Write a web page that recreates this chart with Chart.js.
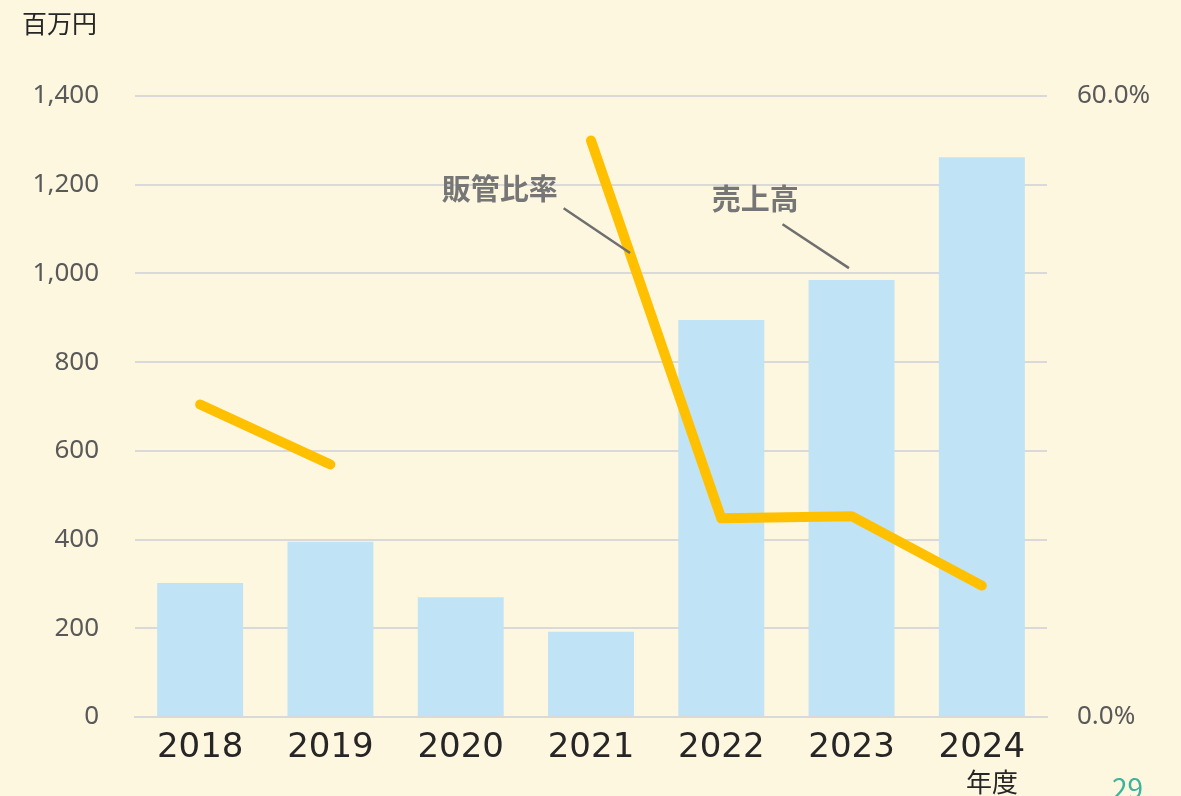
<!DOCTYPE html>
<html lang="ja">

<head>
    <meta charset="UTF-8">
    <title>売上高と販管比率</title>
    <script src="https://cdn.jsdelivr.net/npm/chart.js"></script>
    <style>
        html, body { margin: 0; padding: 0; background: #FEF7E0; }
        #wrap { position: relative; width: 1181px; height: 796px; overflow: hidden; }
        .txt { position: absolute; font-family: "Noto Sans CJK JP", sans-serif; white-space: nowrap; }
    </style>
</head>

<body>
    <div id="wrap">
        <canvas id="salesChart" width="1181" height="796"></canvas>
        <div class="txt" style="left:22px; top:4px; font-size:25px; color:#262626;">百万円</div>
        <div class="txt" style="left:966px; top:762px; font-size:26px; color:#262626;">年度</div>
        <div class="txt" style="left:1112px; top:767px; font-size:28px; color:#3DB39E;">29</div>
    </div>

    <script>
        // 年度
        const years = ['2018', '2019', '2020', '2021', '2022', '2023', '2024'];
        // 売上高（百万円）
        const sales = [302, 395, 270, 192, 895, 985, 1262];
        // 販管比率（%）— 2020年はデータなし
        const sgaRatio = [30.2, 24.4, null, 55.7, 19.2, 19.4, 12.7];

        // 注記（カテゴリ位置, 左軸の値）
        const notes = [
            { text: '販管比率', at: [2.30, 1191], from: [2.79, 1147], to: [3.30, 1046] },
            { text: '売上高', at: [4.26, 1168], from: [4.47, 1111], to: [4.98, 1012] }
        ];

        // 注記を描くプラグイン
        const notePlugin = {
            id: 'notes',
            afterDatasetsDraw(chart) {
                const ctx = chart.ctx;
                const xs = chart.scales.x;
                const ys = chart.scales.y;
                ctx.save();
                notes.forEach(n => {
                    ctx.strokeStyle = '#6F6F6F';
                    ctx.lineWidth = 2.5;
                    ctx.beginPath();
                    ctx.moveTo(xs.getPixelForValue(n.from[0]), ys.getPixelForValue(n.from[1]));
                    ctx.lineTo(xs.getPixelForValue(n.to[0]), ys.getPixelForValue(n.to[1]));
                    ctx.stroke();
                    ctx.fillStyle = '#767676';
                    ctx.font = 'bold 29px "Noto Sans CJK JP"';
                    ctx.textAlign = 'center';
                    ctx.textBaseline = 'middle';
                    ctx.fillText(n.text, xs.getPixelForValue(n.at[0]), ys.getPixelForValue(n.at[1]));
                });
                ctx.restore();
            }
        };

        const ctx = document.getElementById('salesChart').getContext('2d');
        new Chart(ctx, {
            data: {
                labels: years,
                datasets: [{
                    type: 'line',
                    label: '販管比率',
                    data: sgaRatio,
                    yAxisID: 'y1',
                    borderColor: '#FFC000',
                    borderWidth: 10,
                    borderCapStyle: 'round',
                    borderJoinStyle: 'round',
                    pointRadius: 0,
                    tension: 0,
                    spanGaps: false,
                    order: 0
                }, {
                    type: 'bar',
                    label: '売上高',
                    data: sales,
                    yAxisID: 'y',
                    backgroundColor: '#C0E4F5',
                    barPercentage: 0.66,
                    categoryPercentage: 1,
                    order: 1
                }]
            },
            options: {
                responsive: false,
                animation: false,
                layout: { padding: { left: 0, right: 0, top: 96, bottom: 29 } },
                plugins: {
                    legend: { display: false },
                    tooltip: { enabled: false }
                },
                scales: {
                    x: {
                        grid: { display: false },
                        border: { color: '#D9D9D9', width: 2 },
                        ticks: {
                            color: '#262626',
                            font: { family: 'DejaVu Sans', size: 34 },
                            padding: 3
                        },
                        afterFit(scale) { scale.height = 50; }
                    },
                    y: {
                        position: 'left',
                        min: 0,
                        max: 1400,
                        ticks: {
                            stepSize: 200,
                            color: '#595959',
                            font: { family: 'Noto Sans', size: 26 },
                            padding: 36,
                            callback: v => v.toLocaleString('en-US')
                        },
                        grid: { color: '#D9D9D9', lineWidth: 2, drawTicks: false },
                        border: { display: false },
                        afterFit(scale) { scale.width = 135; }
                    },
                    y1: {
                        position: 'right',
                        min: 0,
                        max: 60,
                        ticks: {
                            stepSize: 60,
                            color: '#595959',
                            font: { family: 'Noto Sans', size: 26 },
                            padding: 30,
                            callback: v => v.toFixed(1) + '%'
                        },
                        grid: { display: false, drawTicks: false },
                        border: { display: false },
                        afterFit(scale) { scale.width = 134; }
                    }
                }
            },
            plugins: [notePlugin]
        });
    </script>
</body>

</html>
